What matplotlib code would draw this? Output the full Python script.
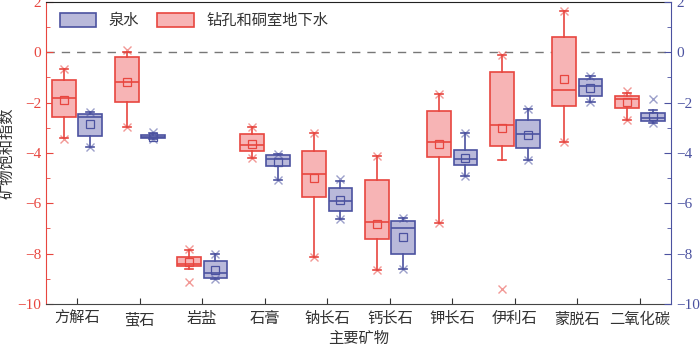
import matplotlib
matplotlib.use("Agg")
import matplotlib.pyplot as plt
from matplotlib.patches import Patch
from matplotlib.ticker import MultipleLocator

plt.rcParams['font.family'] = ['Liberation Serif', 'Noto Sans CJK SC']
plt.rcParams['axes.unicode_minus'] = True

minerals = ["方解石", "萤石", "岩盐", "石膏", "钠长石", "钙长石", "钾长石", "伊利石", "蒙脱石", "二氧化碳"]

# 钻孔和硐室地下水 (red)
red_lo = [-3.41, -2.96, -8.59, -4.18, -8.13, -8.63, -6.78, -4.28, -3.58, -2.69]
red_q1 = [-2.56, -1.98, -8.50, -3.92, -5.76, -7.42, -4.15, -3.72, -2.13, -2.20]
red_med = [-1.81, -1.17, -8.42, -3.68, -4.84, -6.75, -3.55, -2.90, -1.51, -1.85]
red_q3 = [-1.11, -0.20, -8.13, -3.25, -3.92, -5.07, -2.33, -0.79, 0.59, -1.73]
red_hi = [-0.68, 0.00, -7.87, -2.96, -3.19, -4.11, -1.67, -0.12, 1.65, -1.60]
red_mean = [-1.90, -1.17, -8.35, -3.65, -5.00, -6.81, -3.65, -2.99, -1.08, -1.96]
red_min = [-3.45, -2.96, -9.13, -4.18, -8.13, -8.63, -6.78, -9.42, -3.58, -2.69]
red_max = [-0.68, 0.10, -7.80, -2.96, -3.19, -4.11, -1.67, -0.09, 1.65, -1.54]

# 泉水 (blue)
blue_lo = [-3.78, -3.44, -9.02, -5.06, -6.64, -8.60, -4.90, -4.27, -1.96, -2.79]
blue_q1 = [-3.33, -3.40, -8.96, -4.52, -6.32, -8.02, -4.48, -3.82, -1.74, -2.73]
blue_med = [-2.57, -3.37, -8.76, -4.24, -5.90, -6.97, -4.24, -3.25, -1.34, -2.60]
blue_q3 = [-2.44, -3.28, -8.30, -4.07, -5.39, -6.69, -3.90, -2.69, -1.08, -2.42]
blue_hi = [-2.37, -3.20, -8.00, -4.04, -5.10, -6.57, -3.19, -2.24, -0.95, -2.30]
blue_mean = [-2.86, -3.37, -8.66, -4.34, -5.85, -7.34, -4.20, -3.28, -1.43, -2.53]
blue_min = [-3.78, -3.44, -9.02, -5.06, -6.64, -8.60, -4.90, -4.27, -1.96, -2.79]
blue_max = [-2.37, -3.16, -8.00, -4.04, -5.03, -6.57, -3.19, -2.24, -0.95, -1.87]

RED_EDGE = "#e8463f"
RED_FILL = "#f7b4b5"
BLUE_EDGE = "#4b52a0"
BLUE_FILL = "#b9b9da"


def draw(ax, lo, q1, med, q3, hi, mean, mn, mx, offset, edge, fill):
    stats = []
    for i in range(len(minerals)):
        stats.append(dict(whislo=lo[i], q1=q1[i], med=med[i], q3=q3[i],
                          whishi=hi[i], mean=mean[i], fliers=[]))
    pos = [i + offset for i in range(len(minerals))]
    ax.bxp(stats, positions=pos, widths=0.38, patch_artist=True, showmeans=True,
           showfliers=False,
           boxprops=dict(facecolor=fill, edgecolor=edge, linewidth=1.2),
           medianprops=dict(color=edge, linewidth=1.2),
           whiskerprops=dict(color=edge, linewidth=1.2),
           capprops=dict(color=edge, linewidth=1.2),
           capwidths=0.13,
           meanprops=dict(marker='s', markerfacecolor='none', markeredgecolor=edge,
                          markersize=6, markeredgewidth=0.9))
    ax.plot(pos, mn, 'x', color=edge, alpha=0.55, markersize=5.5, zorder=4)
    ax.plot(pos, mx, 'x', color=edge, alpha=0.55, markersize=5.5, zorder=4)


fig = plt.figure(figsize=(7, 3.44), dpi=100)
ax = fig.add_axes([0.0657, 0.1163, 0.893, 0.878])

ax.axhline(0, color="#777777", linestyle=(0, (6, 5)), linewidth=1.0, zorder=0)
draw(ax, red_lo, red_q1, red_med, red_q3, red_hi, red_mean, red_min, red_max,
     -0.21, RED_EDGE, RED_FILL)
draw(ax, blue_lo, blue_q1, blue_med, blue_q3, blue_hi, blue_mean, blue_min, blue_max,
     0.21, BLUE_EDGE, BLUE_FILL)

ax.set_xlim(-0.5, len(minerals) - 0.5)
ax.set_ylim(-10, 2)
ax.set_xticks(range(len(minerals)))
ax.set_xticklabels(minerals, fontsize=11, color="#333333")
ax.yaxis.set_major_locator(MultipleLocator(2))
ax.yaxis.set_minor_locator(MultipleLocator(1))
ax.tick_params(axis='y', which='both', direction='in', colors=RED_EDGE, labelsize=11)
ax.tick_params(axis='y', which='major', length=5)
ax.tick_params(axis='y', which='minor', length=3)
ax.tick_params(axis='x', direction='in', length=4, color="#333333", pad=6)
ax.spines['left'].set_color(RED_EDGE)
ax.spines['bottom'].set_color("#444444")
ax.spines['top'].set_color("#222222")
ax.spines['right'].set_visible(False)
ax.set_xlabel("主要矿物", fontsize=11, color="#333333", labelpad=3)
ax.set_ylabel("矿物饱和指数", fontsize=11, color="#333333", labelpad=2)

ax2 = ax.twinx()
ax2.set_ylim(-10, 2)
ax2.yaxis.set_major_locator(MultipleLocator(2))
ax2.yaxis.set_minor_locator(MultipleLocator(1))
ax2.tick_params(axis='y', which='both', direction='in', colors=BLUE_EDGE, labelsize=11)
ax2.tick_params(axis='y', which='major', length=5)
ax2.tick_params(axis='y', which='minor', length=3)
for s in ['left', 'top', 'bottom']:
    ax2.spines[s].set_visible(False)
ax2.spines['right'].set_color(BLUE_EDGE)

handles = [Patch(facecolor=BLUE_FILL, edgecolor=BLUE_EDGE, linewidth=1.2, label="泉水"),
           Patch(facecolor=RED_FILL, edgecolor=RED_EDGE, linewidth=1.2, label="钻孔和硐室地下水")]
leg = ax.legend(handles=handles, loc='upper left', ncol=2, frameon=False,
                fontsize=11, handlelength=2.4, handleheight=1.1,
                columnspacing=1.2, bbox_to_anchor=(0.0, 1.01))
for t in leg.get_texts():
    t.set_color("#333333")

fig.savefig("out.png", dpi=100)
